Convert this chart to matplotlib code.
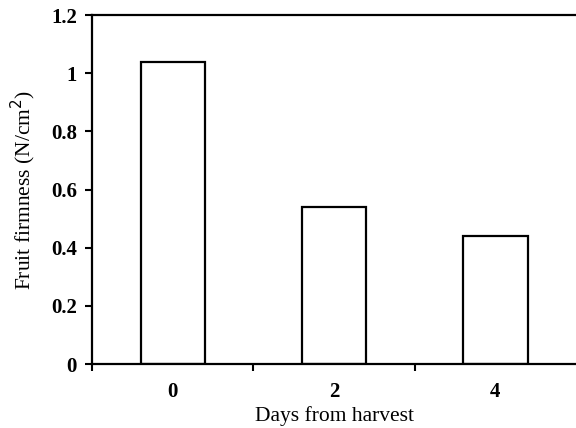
"""Fruit firmness bar chart."""

import matplotlib.pyplot as plt
import numpy as np

# data
days = ["0", "2", "4"]
firmness = [1.04, 0.54, 0.44]
y_ticks = [0, 0.2, 0.4, 0.6, 0.8, 1.0, 1.2]
y_tick_labels = ["0", "0.2", "0.4", "0.6", "0.8", "1", "1.2"]

plt.rcParams["font.family"] = ["Liberation Serif", "DejaVu Serif"]

fig = plt.figure(figsize=(5.76, 4.28), dpi=100)
ax = fig.add_axes([0.16, 0.1495, 0.84, 0.815])

x = np.arange(len(days))
ax.bar(x, firmness, width=0.4, color="white", edgecolor="black", linewidth=1.6)

ax.set_xlim(-0.5, len(days) - 0.5)
ax.set_ylim(0, 1.2)

# ticks at category boundaries, labels at centers
ax.set_xticks(np.arange(-0.5, len(days) - 0.5, 1.0))
ax.set_xticklabels([])
ax.set_xticks(x, minor=True)
ax.set_xticklabels(days, minor=True, fontsize=15, fontweight="bold")
ax.tick_params(axis="x", which="major", direction="out", length=5, width=1.5)
ax.tick_params(axis="x", which="minor", length=0, pad=13)

ax.set_yticks(y_ticks)
ax.set_yticklabels(y_tick_labels, fontsize=15, fontweight="bold")
ax.tick_params(axis="y", direction="out", length=5, width=1.5, pad=6)

for side in ["left", "bottom", "top"]:
    ax.spines[side].set_linewidth(1.6)
ax.spines["right"].set_visible(False)

ax.set_xlabel("Days from harvest", fontsize=15.5, labelpad=3)
ax.set_ylabel("Fruit firmness (N/cm$^2$)", fontsize=15.5, labelpad=9)

fig.savefig("out.png", dpi=100)
